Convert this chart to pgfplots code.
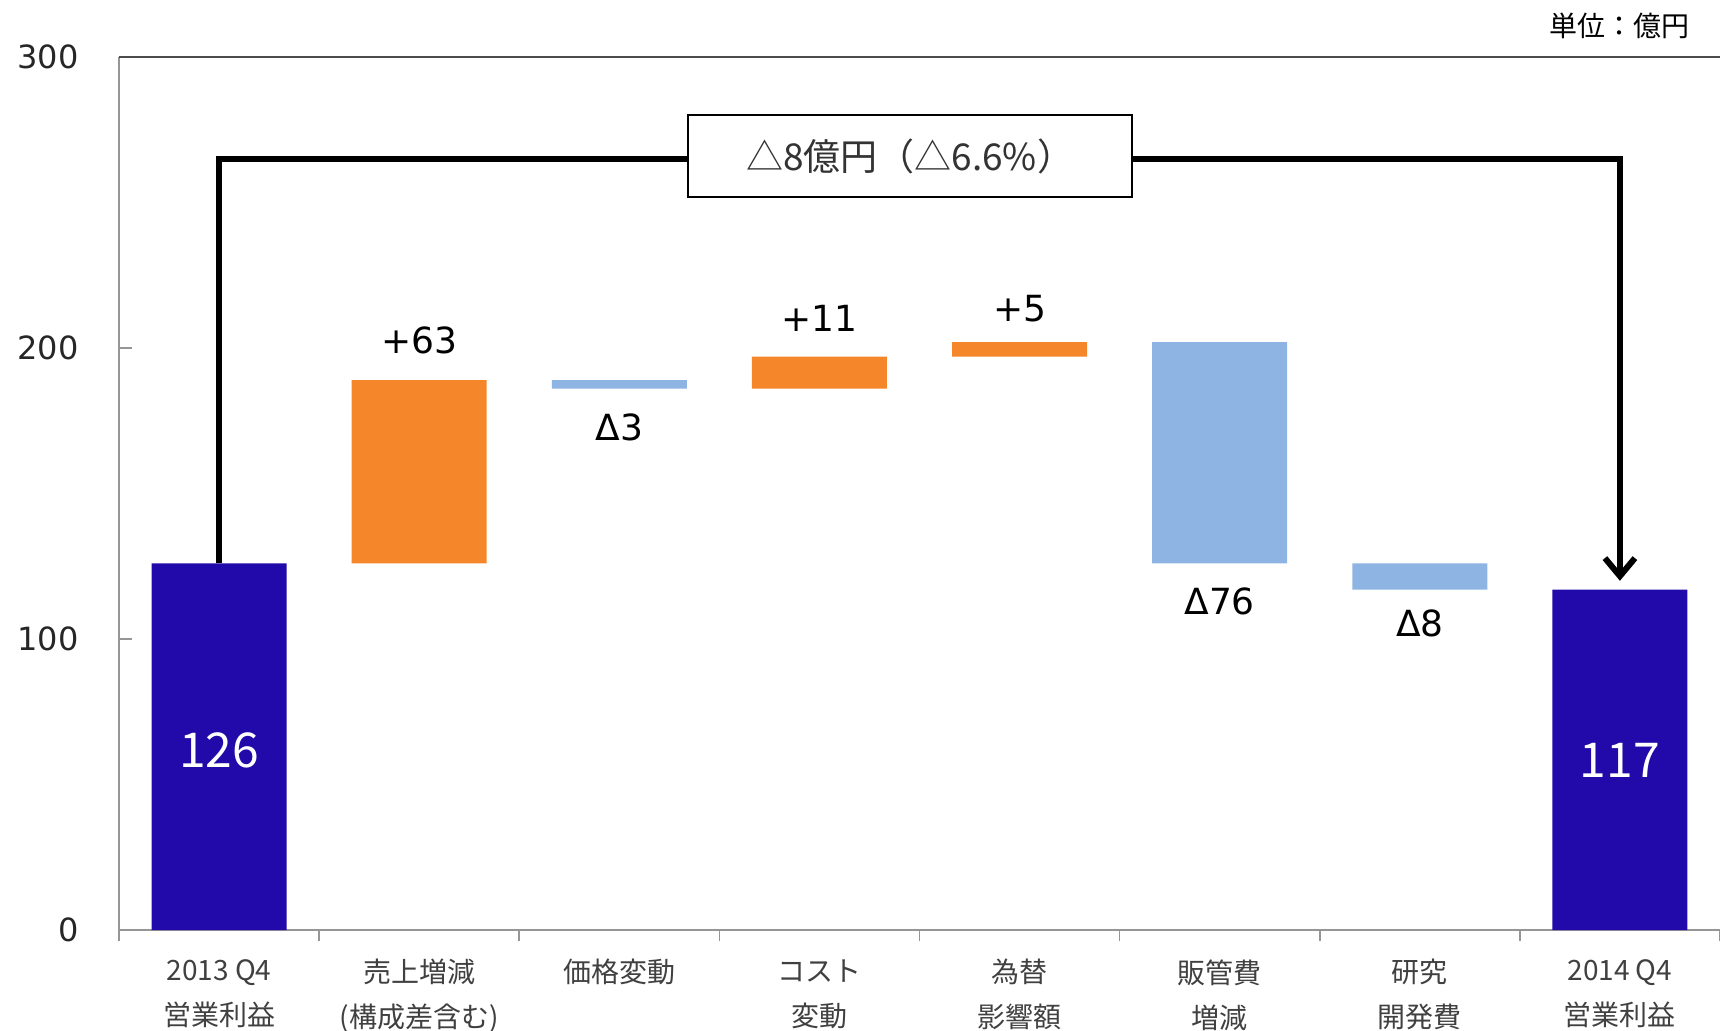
\documentclass[border=0pt]{standalone}
\usepackage{fontspec}
\setmainfont{DejaVu Sans}
\newfontfamily\jp{Noto Sans CJK JP}
\usepackage{pgfplots}
\usepackage{pgfplotstable}
\pgfplotsset{compat=1.18}
\usetikzlibrary{arrows.meta}

\definecolor{darkbar}{RGB}{34,10,170}
\definecolor{upbar}{RGB}{245,134,42}
\definecolor{downbar}{RGB}{141,180,226}
\definecolor{axisgray}{RGB}{150,150,150}

% waterfall: invisible base, then the visible piece of each bar
\pgfplotstableread{
x base total up down
0 0   126   0  0
1 126 0     63 0
2 186 0     0  3
3 186 0     11 0
4 197 0     5  0
5 126 0     0  76
6 117 0     0  9
7 0   117   0  0
}\steps

\begin{document}
\begin{tikzpicture}
\begin{axis}[
    scale only axis,
    width=800.5pt, height=436.5pt,
    ybar stacked, bar width=0.675,
    xmin=-0.5, xmax=7.5, ymin=0, ymax=300,
    enlargelimits=false,
    clip=false,
    axis x line*=bottom, axis y line*=left,
    axis line style={draw=axisgray, line width=0.8pt},
    xtick={0,...,7},
    xticklabels={{2013 Q4\\営業利益},{売上増減\\(構成差含む)},{価格変動},{コスト\\変動},{為替\\影響額},{販管費\\増減},{研究\\開発費},{2014 Q4\\営業利益}},
    minor xtick={-0.5,0.5,...,7.5},
    ytick={0,100,200,300},
    tick align=inside,
    major tick length=6.5pt, minor tick length=5.5pt,
    every major x tick/.style={draw=none},
    every minor x tick/.append style={yshift=-5.5pt, draw=axisgray, line width=0.8pt},
    every major y tick/.append style={draw=axisgray, line width=0.8pt},
    /pgf/number format/assume math mode=true,
    yticklabel style={font=\fontsize{16}{19}\selectfont, inner sep=0pt, xshift=-20pt, text=black!85},
    xticklabel style={font=\jp\fontsize{14}{22.5}\selectfont, align=center, inner sep=0pt, anchor=north, yshift=-14.5pt, text=black!75},
]
\addplot[fill=none, draw=none] table[x=x, y=base] {\steps};
\addplot[fill=darkbar, draw=none] table[x=x, y=total] {\steps};
\addplot[fill=upbar, draw=none] table[x=x, y=up] {\steps};
\addplot[fill=downbar, draw=none] table[x=x, y=down] {\steps};

\coordinate (tl) at (axis cs:-0.5,300);
\coordinate (tr) at (axis cs:7.5,300);
\coordinate (unit) at (axis cs:7.5,310.8);
\coordinate (s0) at (axis cs:0,126);
\coordinate (s1) at (axis cs:0,265);
\coordinate (s2) at (axis cs:7,265);
\coordinate (s3) at (axis cs:7,120);
\coordinate (box) at (axis cs:3.453,266);
\coordinate (l1) at (axis cs:1,202.7);
\coordinate (l2) at (axis cs:2,172.6);
\coordinate (l3) at (axis cs:3,210.3);
\coordinate (l4) at (axis cs:4,213.7);
\coordinate (l5) at (axis cs:5,113);
\coordinate (l6) at (axis cs:6,105.5);
\coordinate (l0) at (axis cs:0,61.8);
\coordinate (l7) at (axis cs:7,58.4);
\end{axis}

\draw[black!70, line width=1pt] (tl) -- (tr);
\draw[line width=3pt, line join=miter, -{Straight Barb[length=9pt,width=15pt]}]
    (s0) -- (s1) -- (s2) -- (s3);
\node[draw=black, line width=1.2pt, fill=white, minimum width=222pt, minimum height=41pt,
      inner sep=0pt, font=\jp\fontsize{18.5}{20}\selectfont, text=black!80]
    at (box) {△8億円（△6.6\%）};

\node[font=\fontsize{18}{20}\selectfont] at (l1) {+63};
\node[font=\fontsize{18}{20}\selectfont] at (l2) {Δ3};
\node[font=\fontsize{18}{20}\selectfont] at (l3) {+11};
\node[font=\fontsize{18}{20}\selectfont] at (l4) {+5};
\node[font=\fontsize{18}{20}\selectfont] at (l5) {Δ76};
\node[font=\fontsize{18}{20}\selectfont] at (l6) {Δ8};
\node[font=\jp\fontsize{24}{26}\selectfont, text=white] at (l0) {126};
\node[font=\jp\fontsize{24}{26}\selectfont, text=white] at (l7) {117};

\node[font=\jp\fontsize{14}{16}\selectfont, anchor=east, inner sep=0pt, xshift=-15pt]
    at (unit) {単位：億円};

\pgfresetboundingbox
\path[use as bounding box] (-59.5pt,-50pt) rectangle (800.5pt,465pt);
\end{tikzpicture}
\end{document}
